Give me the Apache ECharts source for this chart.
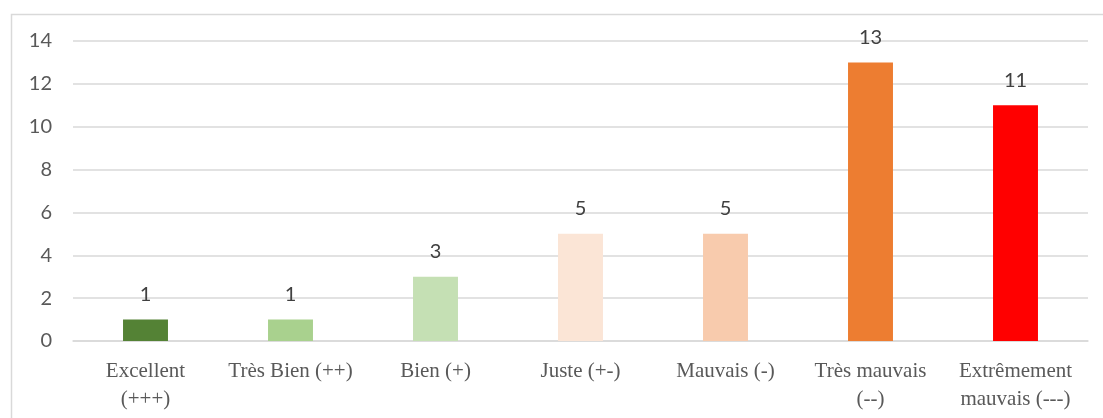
<!DOCTYPE html>
<html>
<head>
<meta charset="utf-8">
<script src="https://cdn.jsdelivr.net/npm/echarts@6/dist/echarts.min.js"></script>
<style>
  html, body { margin: 0; padding: 0; background: #ffffff; }
  #chart { width: 1103px; height: 418px; }
</style>
</head>
<body>
<div id="chart"></div>
<script>
// Ratings and how many answers each got
const categories = [
  'Excellent\n(+++)',
  'Très Bien (++)',
  'Bien (+)',
  'Juste (+-)',
  'Mauvais (-)',
  'Très mauvais\n(--)',
  'Extrêmement\nmauvais (---)'
];
const counts = [1, 1, 3, 5, 5, 13, 11];
const barColors = ['#548235', '#a9d18e', '#c5e0b4', '#fbe5d6', '#f8cbad', '#ed7d31', '#ff0000'];

const chart = echarts.init(document.getElementById('chart'));
chart.setOption({
  animation: false,
  graphic: [{
    type: 'rect',
    left: 9, top: 12,
    shape: { width: 1110, height: 420 },
    style: { fill: 'none', stroke: '#d9d9d9', lineWidth: 1.5 },
    silent: true
  }],
  grid: { left: 73, right: 15, top: 41, bottom: 77 },
  xAxis: {
    type: 'category',
    data: categories,
    axisTick: { show: false },
    axisLine: { lineStyle: { color: '#d9d9d9', width: 1.5 } },
    axisLabel: {
      interval: 0,
      margin: 16,
      color: '#595959',
      fontFamily: '"Liberation Serif", "DejaVu Serif", serif',
      fontSize: 21,
      lineHeight: 28
    }
  },
  yAxis: {
    type: 'value',
    min: 0, max: 14, interval: 2,
    axisLine: { show: false },
    axisTick: { show: false },
    splitLine: { lineStyle: { color: '#d9d9d9', width: 1.5 } },
    axisLabel: {
      margin: 21,
      color: '#595959',
      fontFamily: 'Lato, "Open Sans", sans-serif',
      fontSize: 20
    }
  },
  series: [{
    type: 'bar',
    barWidth: '31%',
    data: counts.map((v, i) => ({ value: v, itemStyle: { color: barColors[i] } })),
    label: {
      show: true,
      position: 'top',
      distance: 15,
      color: '#404040',
      fontFamily: 'Lato, "Open Sans", sans-serif',
      fontSize: 20
    }
  }]
});
</script>
</body>
</html>
